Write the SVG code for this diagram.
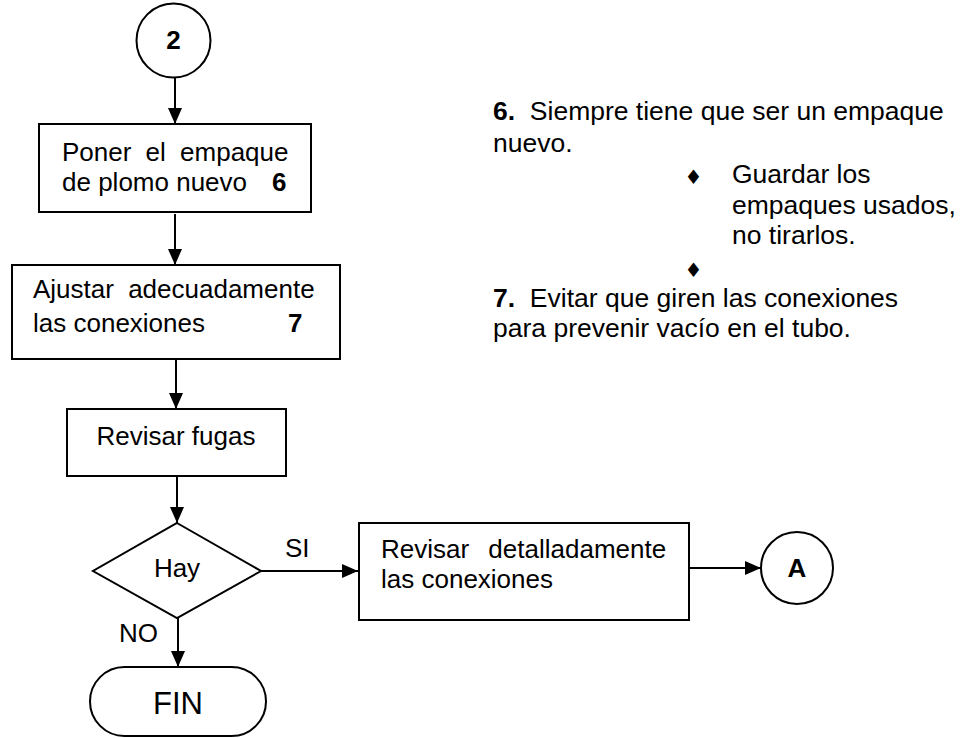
<svg xmlns="http://www.w3.org/2000/svg" width="961" height="738" viewBox="0 0 961 738">
<style>
.s{fill:#fff;stroke:#000;stroke-width:2}
.t{font-family:"Liberation Sans",Arial,sans-serif;font-size:26px;fill:#000}
.n{font-size:26.5px}
.b{font-weight:bold}
.c{stroke:#000;stroke-width:2;fill:none}
.bul{font-family:"DejaVu Sans",sans-serif;font-size:20px;fill:#000}
</style>
<defs>
<marker id="ah" markerUnits="userSpaceOnUse" markerWidth="18" markerHeight="16" refX="16" refY="7" orient="auto" viewBox="0 0 18 14">
<path d="M0,0 L16,7 L0,14 Z" fill="#000"/>
</marker>
</defs>
<rect width="961" height="738" fill="#fff"/>
<g id="connectors">
<line class="c" x1="175" y1="78" x2="175" y2="124" marker-end="url(#ah)"/>
<line class="c" x1="175" y1="214" x2="175" y2="265" marker-end="url(#ah)"/>
<line class="c" x1="176" y1="360" x2="176" y2="409" marker-end="url(#ah)"/>
<line class="c" x1="177" y1="477" x2="177" y2="523" marker-end="url(#ah)"/>
<line class="c" x1="261" y1="571" x2="358" y2="571" marker-end="url(#ah)"/>
<line class="c" x1="178" y1="618" x2="178" y2="667" marker-end="url(#ah)"/>
<line class="c" x1="689" y1="568" x2="761" y2="568" marker-end="url(#ah)"/>
<text class="t" x="285" y="557">SI</text>
<text class="t" x="119" y="642">NO</text>
</g>
<g id="n2">
<circle class="s" cx="173.5" cy="40.5" r="37"/>
<text class="t b" x="173.5" y="49" text-anchor="middle">2</text>
</g>
<g id="poner">
<rect class="s" x="39" y="124" width="272" height="88"/>
<text class="t" x="62" y="161" style="word-spacing:7px">Poner el empaque</text>
<text class="t" x="62" y="191">de plomo nuevo</text>
<text class="t b" x="272" y="191">6</text>
</g>
<g id="ajustar">
<rect class="s" x="12" y="265" width="328" height="94"/>
<text class="t" x="33" y="298" style="word-spacing:7px">Ajustar adecuadamente</text>
<text class="t" x="33" y="332">las conexiones</text>
<text class="t b" x="288" y="332">7</text>
</g>
<g id="revisar">
<rect class="s" x="67" y="409" width="219" height="67"/>
<text class="t" x="176" y="445" text-anchor="middle">Revisar fugas</text>
</g>
<g id="hay">
<polygon class="s" points="177,523 261,571 177,618 93,571"/>
<text class="t" x="177" y="577" text-anchor="middle">Hay</text>
</g>
<g id="fin">
<rect class="s" x="90" y="667" width="176" height="69" rx="34.5" ry="34.5"/>
<text class="t" x="178" y="714" text-anchor="middle" style="font-size:31px">FIN</text>
</g>
<g id="detalle">
<rect class="s" x="359" y="523" width="330" height="97"/>
<text class="t" x="381" y="558" style="word-spacing:12px">Revisar detalladamente</text>
<text class="t" x="381" y="588">las conexiones</text>
</g>
<g id="nA">
<circle class="s" cx="797" cy="568" r="36"/>
<text class="t b" x="797" y="577" text-anchor="middle">A</text>
</g>
<g id="notes">
<text class="t n" x="493" y="120" xml:space="preserve"><tspan class="b">6.</tspan>  Siempre tiene que ser un empaque</text>
<text class="t n" x="493" y="152">nuevo.</text>
<text class="bul" x="693.5" y="184" text-anchor="middle">♦</text>
<text class="t n" x="732" y="183">Guardar los</text>
<text class="t n" x="732" y="214">empaques usados,</text>
<text class="t n" x="732" y="244">no tirarlos.</text>
<text class="bul" x="693.5" y="277" text-anchor="middle">♦</text>
<text class="t n" x="493" y="307" xml:space="preserve"><tspan class="b">7.</tspan>  Evitar que giren las conexiones</text>
<text class="t n" x="493" y="337">para prevenir vacío en el tubo.</text>
</g>
</svg>
